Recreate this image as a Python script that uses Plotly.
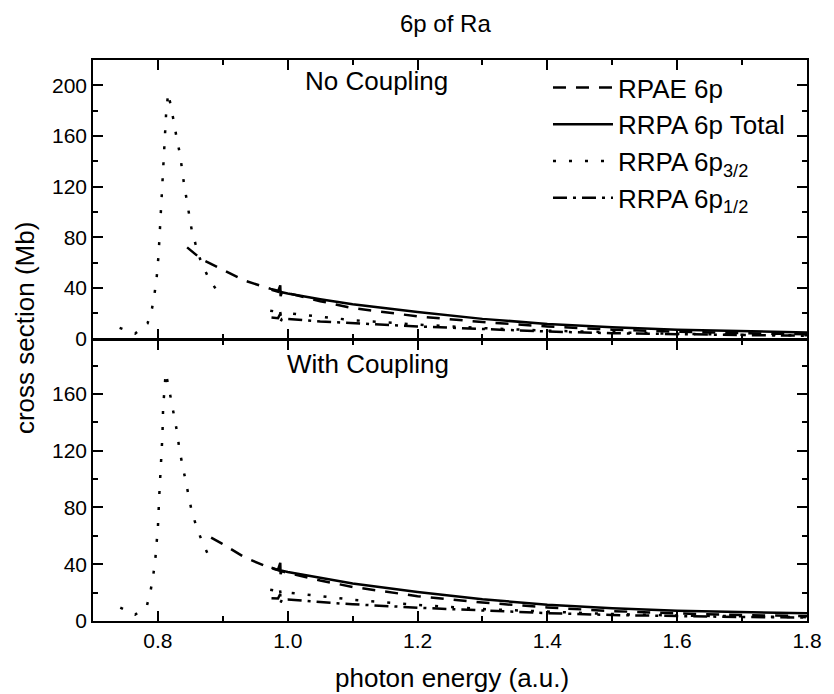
import plotly.graph_objects as go

# ---------------- data ----------------
# Top panel: No Coupling
nc_res_e = [0.741, 0.765, 0.784, 0.791, 0.795, 0.798, 0.801, 0.804, 0.807, 0.810, 0.813, 0.816,
            0.821, 0.825, 0.829, 0.834, 0.840, 0.844, 0.848, 0.852, 0.858, 0.865, 0.876, 0.890]
nc_res_s = [8.4, 3.9, 11.8, 24, 36, 47.6, 66, 96, 120, 157, 181, 194,
            182, 170, 158, 145.6, 123, 111, 99, 86, 74.5, 62.7, 50, 38.4]

nc_rpae_e = [0.845, 0.867, 0.893, 0.933, 0.974, 0.994, 1.05, 1.1, 1.2, 1.3, 1.4, 1.5, 1.6, 1.7, 1.8]
nc_rpae_s = [72, 62.7, 56, 45.8, 39.2, 36.6, 29.5, 24, 17.5, 13, 9.5, 7.0, 5.3, 4.2, 3.4]

nc_tot_e = [0.975, 0.985, 0.9885, 0.989, 0.991, 1.0, 1.05, 1.1, 1.2, 1.3, 1.4, 1.5, 1.6, 1.7, 1.8]
nc_tot_s = [38.5, 37, 42, 33.5, 36.5, 35.5, 31, 27, 21, 15.5, 11.5, 8.8, 7.0, 5.8, 4.8]

nc_p32_e = [0.973, 0.985, 0.9875, 0.989, 0.991, 1.0, 1.05, 1.1, 1.2, 1.3, 1.4, 1.5, 1.6, 1.7, 1.8]
nc_p32_s = [22, 21, 24, 19, 20.5, 20, 17.5, 14.5, 11, 8.2, 6.2, 4.7, 3.7, 3.0, 2.5]

nc_p12_e = [0.975, 0.985, 0.9885, 0.989, 0.991, 1.0, 1.05, 1.1, 1.2, 1.3, 1.4, 1.5, 1.6, 1.7, 1.8]
nc_p12_s = [16.5, 16, 19.6, 13.3, 15.5, 15.5, 13.5, 12, 9.5, 7.5, 5.5, 4.2, 3.3, 2.7, 2.2]

# Bottom panel: With Coupling
wc_res_e = [0.742, 0.765, 0.783, 0.789, 0.793, 0.796, 0.798, 0.800, 0.802, 0.805, 0.807, 0.808,
            0.810, 0.812, 0.817, 0.821, 0.825, 0.830, 0.833, 0.838, 0.843, 0.847, 0.852, 0.859,
            0.868, 0.880]
wc_res_s = [9.5, 4.5, 10.6, 22, 32.8, 43.4, 55, 66, 87.6, 109, 131, 150,
            163.7, 175, 164, 154, 143, 132, 121, 110, 99, 88, 77.5, 67,
            56, 44]

wc_rpae_e = [0.882, 0.898, 0.933, 0.969, 0.994, 1.05, 1.1, 1.2, 1.3, 1.4, 1.5, 1.6, 1.7, 1.8]
wc_rpae_s = [58.7, 54.7, 45, 38, 34.6, 28.5, 24, 17.5, 13, 9.5, 7.0, 5.3, 4.2, 3.4]

wc_tot_e = [0.975, 0.985, 0.9885, 0.989, 0.991, 1.0, 1.05, 1.1, 1.2, 1.3, 1.4, 1.5, 1.6, 1.7, 1.8]
wc_tot_s = [37.5, 36, 41, 33, 35.5, 34.5, 30.5, 26.5, 20.5, 15.3, 11.5, 9.0, 7.3, 6.2, 5.4]

wc_p32_e = [0.973, 0.985, 0.9875, 0.989, 0.991, 1.0, 1.05, 1.1, 1.2, 1.3, 1.4, 1.5, 1.6, 1.7, 1.8]
wc_p32_s = [22, 21, 24, 19, 20.5, 20, 17.5, 15, 11.3, 8.4, 6.4, 4.9, 3.9, 3.2, 2.7]

wc_p12_e = [0.975, 0.985, 0.9885, 0.989, 0.991, 1.0, 1.05, 1.1, 1.2, 1.3, 1.4, 1.5, 1.6, 1.7, 1.8]
wc_p12_s = [16, 15.8, 19, 13, 15, 15.2, 13.3, 11.8, 9.4, 7.4, 5.5, 4.2, 3.4, 2.8, 2.4]

x_ticks = [0.8, 1.0, 1.2, 1.4, 1.6, 1.8]
y_ticks = [0, 40, 80, 120, 160, 200]

# ---------------- styles ----------------
FONT = "Liberation Sans, Arial, sans-serif"
LW = 2.5
DASH = "13px,10px"
DOT = "3px,13px"
DASHDOT = "14px,6px,3px,6px"
K = "black"
ALW = 1.5

fig = go.Figure()

def add(x, y, dash, name, ax, show):
    fig.add_trace(go.Scatter(
        x=x, y=y, mode="lines", name=name, showlegend=show,
        line=dict(color=K, width=LW, dash=dash),
        xaxis="x" if ax == 1 else "x2", yaxis="y" if ax == 1 else "y2",
    ))

# legend traces come from top panel
add(nc_rpae_e, nc_rpae_s, DASH, "RPAE 6p", 2, True)
add(nc_tot_e, nc_tot_s, "solid", "RRPA 6p Total", 2, True)
add(nc_p32_e, nc_p32_s, DOT, "RRPA 6p<sub>3/2</sub>", 2, True)
add(nc_p12_e, nc_p12_s, DASHDOT, "RRPA 6p<sub>1/2</sub>", 2, True)
add(nc_res_e, nc_res_s, DOT, "res", 2, False)

add(wc_rpae_e, wc_rpae_s, DASH, "RPAE 6p", 1, False)
add(wc_tot_e, wc_tot_s, "solid", "RRPA 6p Total", 1, False)
add(wc_p32_e, wc_p32_s, DOT, "RRPA 6p3/2", 1, False)
add(wc_p12_e, wc_p12_s, DASHDOT, "RRPA 6p1/2", 1, False)
add(wc_res_e, wc_res_s, DOT, "res", 1, False)

PH = 561.0
split = (621 - 340) / PH

common_x = dict(range=[0.7, 1.8], showgrid=False, zeroline=False, showline=True,
                linecolor=K, linewidth=ALW, mirror="ticks", ticks="inside",
                ticklen=10, tickwidth=ALW, tickcolor=K, tickvals=x_ticks,
                minor=dict(dtick=0.1, tick0=0.7, ticks="inside", ticklen=5, tickwidth=ALW, tickcolor=K))
common_y = dict(showgrid=False, zeroline=False, showline=True, linecolor=K, linewidth=ALW,
                mirror="ticks", ticks="inside", ticklen=10, tickwidth=ALW, tickcolor=K,
                tickvals=y_ticks,
                minor=dict(dtick=20, tick0=0, ticks="inside", ticklen=5, tickwidth=ALW, tickcolor=K))

fig.update_layout(
    width=834, height=694,
    margin=dict(l=93, r=16, t=60, b=73),
    paper_bgcolor="white", plot_bgcolor="white",
    font=dict(family=FONT, size=21, color=K),
    xaxis=dict(**common_x, anchor="y", tickformat=".1f", tickfont=dict(size=21)),
    yaxis=dict(**common_y, domain=[0, split], range=[0, 198], anchor="x", tickfont=dict(size=21)),
    xaxis2=dict(**common_x, anchor="y2", showticklabels=False, matches="x"),
    yaxis2=dict(**common_y, domain=[split + ALW / PH, 1], range=[0, 220], anchor="x2",
                tickfont=dict(size=21)),
    legend=dict(x=(555 - 93) / 725.0, y=(621 - 64) / PH, xanchor="left", yanchor="top",
                bgcolor="rgba(0,0,0,0)", font=dict(size=26, family=FONT),
                tracegroupgap=0, itemwidth=60),
    showlegend=True,
    annotations=[
        dict(text="6p of Ra", x=(451 - 93) / 725.0, y=(621 - 23) / PH, xref="paper", yref="paper",
             xanchor="center", yanchor="middle", showarrow=False, font=dict(size=24, family=FONT)),
        dict(text="No Coupling", x=(381 - 93) / 725.0, y=(621 - 81) / PH, xref="paper", yref="paper",
             xanchor="center", yanchor="middle", showarrow=False, font=dict(size=26)),
        dict(text="With Coupling", x=(372 - 93) / 725.0, y=(621 - 364) / PH, xref="paper", yref="paper",
             xanchor="center", yanchor="middle", showarrow=False, font=dict(size=26)),
        dict(text="photon energy (a.u.)", x=(458 - 93) / 725.0, y=(621 - 678) / PH, xref="paper",
             yref="paper", xanchor="center", yanchor="middle", showarrow=False, font=dict(size=26)),
        dict(text="cross section (Mb)", x=(24 - 93) / 725.0, y=(621 - 328) / PH, xref="paper",
             yref="paper", xanchor="center", yanchor="middle", showarrow=False, textangle=-90,
             font=dict(size=26)),
    ],
)

fig.write_html("out.html")
